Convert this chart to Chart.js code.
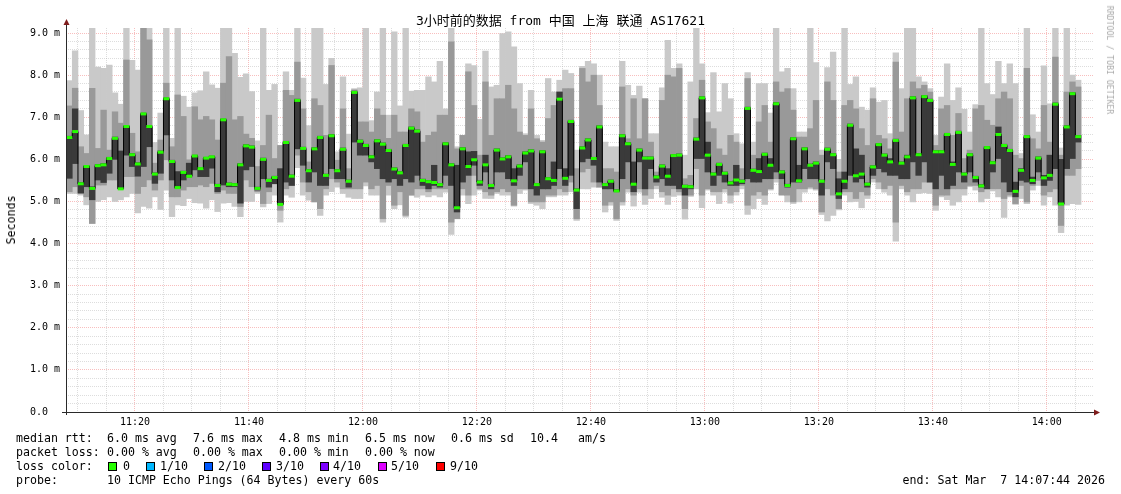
<!DOCTYPE html>
<html>
<head>
<meta charset="utf-8">
<script src="https://cdn.jsdelivr.net/npm/chart.js@4/dist/chart.umd.min.js"></script>
<style>
  body { margin: 0; background: #fff; }
  #wrap { position: relative; width: 1121px; height: 494px; font-family: "DejaVu Sans Mono", "Noto Sans CJK SC", monospace; color: #000; }
  canvas { position: absolute; left: 0; top: 0; }
  .t { position: absolute; white-space: pre; font-size: 11.6px; line-height: 14px; }
  .sq { position: absolute; top: 462px; width: 7px; height: 7px; border: 1px solid #000; }
  #title { position: absolute; left: 0; top: 13px; width: 1121px; text-align: center; font-size: 13px; line-height: 16px; white-space: pre; }
  #ylab { position: absolute; left: 11px; top: 220px; font-size: 11.6px; transform: translate(-50%, -50%) rotate(-90deg); }
  #credit { position: absolute; left: 1110px; top: 60px; font-size: 8.2px; color: #aaa; white-space: pre; transform: translate(-50%, -50%) rotate(90deg); }
</style>
</head>
<body>
<div id="wrap">
  <canvas id="smoke" width="1121" height="494"></canvas>
  <div id="title">3小时前的数据 from 中国 上海 联通 AS17621</div>
  <div id="ylab">Seconds</div>
  <div id="credit">RRDTOOL / TOBI OETIKER</div>

  <div class="t" style="left:16px;top:431px">median rtt:</div>
  <div class="t" style="left:107px;top:431px">6.0 ms avg</div>
  <div class="t" style="left:193px;top:431px">7.6 ms max</div>
  <div class="t" style="left:279px;top:431px">4.8 ms min</div>
  <div class="t" style="left:365px;top:431px">6.5 ms now</div>
  <div class="t" style="left:451px;top:431px">0.6 ms sd</div>
  <div class="t" style="left:530px;top:431px">10.4</div>
  <div class="t" style="left:578px;top:431px">am/s</div>

  <div class="t" style="left:16px;top:445px">packet loss:</div>
  <div class="t" style="left:107px;top:445px">0.00 % avg</div>
  <div class="t" style="left:193px;top:445px">0.00 % max</div>
  <div class="t" style="left:279px;top:445px">0.00 % min</div>
  <div class="t" style="left:365px;top:445px">0.00 % now</div>

  <div class="t" style="left:16px;top:459px">loss color:</div>
  <div class="sq" style="left:108px;background:#26ff00"></div><div class="t" style="left:123px;top:459px">0</div>
  <div class="sq" style="left:146px;background:#00b8ff"></div><div class="t" style="left:160px;top:459px">1/10</div>
  <div class="sq" style="left:204px;background:#0059ff"></div><div class="t" style="left:218px;top:459px">2/10</div>
  <div class="sq" style="left:262px;background:#5e00ff"></div><div class="t" style="left:276px;top:459px">3/10</div>
  <div class="sq" style="left:320px;background:#7e00ff"></div><div class="t" style="left:333px;top:459px">4/10</div>
  <div class="sq" style="left:378px;background:#dd00ff"></div><div class="t" style="left:391px;top:459px">5/10</div>
  <div class="sq" style="left:436px;background:#ff0000"></div><div class="t" style="left:450px;top:459px">9/10</div>

  <div class="t" style="left:16px;top:473px">probe:</div>
  <div class="t" style="left:107px;top:473px">10 ICMP Echo Pings (64 Bytes) every 60s</div>
  <div class="t" style="right:16px;top:473px">end: Sat Mar  7 14:07:44 2026</div>
</div>

<script>
// one sample per minute, first one at 11:08
const startMinute = 8;

// median rtt (ms)
const median = [
  6.52, 6.66, 5.42, 5.83, 5.31, 5.85, 5.87, 6.02, 6.50, 5.30,
  6.78, 6.11, 5.89, 7.08, 6.78, 5.65, 6.17, 7.44, 5.95, 5.33,
  5.69, 5.60, 6.08, 5.78, 6.03, 6.06, 5.38, 6.94, 5.41, 5.40,
  5.87, 6.32, 6.29, 5.31, 6.00, 5.50, 5.57, 4.93, 6.40, 5.60,
  7.40, 6.26, 5.73, 6.25, 6.52, 5.62, 6.56, 5.73, 6.24, 5.48,
  7.59, 6.43, 6.33, 6.06, 6.44, 6.36, 6.21, 5.77, 5.68, 6.33,
  6.74, 6.67, 5.50, 5.47, 5.45, 5.40, 6.37, 5.87, 4.85, 6.25,
  5.83, 5.99, 5.46, 5.87, 5.38, 6.22, 6.01, 6.06, 5.49, 5.84,
  6.15, 6.20, 5.40, 6.18, 5.54, 5.50, 7.43, 5.55, 6.90, 5.27,
  6.27, 6.46, 6.02, 6.77, 5.40, 5.48, 5.25, 6.56, 6.37, 5.41,
  6.22, 6.03, 6.03, 5.58, 5.84, 5.60, 6.09, 6.10, 5.36, 5.35,
  6.48, 7.46, 6.10, 5.65, 5.88, 5.67, 5.44, 5.51, 5.48, 7.21,
  5.74, 5.71, 6.12, 5.86, 7.32, 5.70, 5.38, 6.49, 5.49, 6.25,
  5.86, 5.91, 5.48, 6.24, 6.11, 5.18, 5.48, 6.81, 5.61, 5.65,
  5.41, 5.82, 6.35, 6.10, 5.94, 6.45, 5.91, 6.06, 7.46, 6.11,
  7.49, 7.40, 6.18, 6.18, 6.59, 5.88, 6.64, 5.65, 6.11, 5.57,
  5.37, 6.28, 5.92, 6.59, 6.33, 6.21, 5.24, 5.74, 6.54, 5.50,
  6.03, 5.56, 5.62, 7.31, 4.94, 6.77, 7.56, 6.54
];

// outer smoke: slowest / fastest ping
const smokeHi = [
  7.87, 8.58, 7.16, 6.58, 9.20, 8.19, 8.16, 8.24, 7.58, 7.31,
  9.20, 8.35, 8.12, 9.20, 9.20, 6.40, 7.10, 9.20, 6.50, 9.20,
  7.50, 7.24, 7.58, 7.63, 8.08, 7.77, 7.69, 9.20, 9.20, 8.52,
  7.95, 8.03, 7.61, 6.44, 9.20, 7.64, 7.78, 6.33, 8.08, 7.64,
  9.20, 7.93, 6.80, 9.20, 9.20, 7.78, 8.40, 6.18, 7.96, 6.60,
  7.68, 7.70, 9.20, 6.92, 7.60, 9.20, 7.05, 9.03, 7.27, 9.20,
  7.62, 7.64, 7.64, 7.96, 7.84, 8.33, 7.20, 9.20, 6.30, 6.57,
  8.27, 8.23, 6.95, 8.57, 7.72, 7.76, 8.99, 9.03, 8.67, 7.80,
  6.61, 7.64, 6.57, 6.45, 7.92, 7.60, 7.88, 8.12, 8.04, 6.22,
  8.21, 8.33, 8.27, 8.00, 6.41, 6.30, 6.30, 8.33, 7.76, 7.52,
  7.74, 7.44, 6.61, 6.61, 7.70, 8.83, 8.16, 8.27, 6.10, 7.84,
  9.20, 8.27, 7.11, 8.06, 7.13, 7.80, 7.44, 6.61, 6.37, 8.06,
  6.41, 7.80, 7.80, 7.10, 9.20, 8.08, 8.16, 7.68, 6.65, 6.65,
  9.20, 8.30, 6.22, 8.18, 8.55, 6.00, 9.20, 7.78, 7.96, 7.24,
  7.17, 7.70, 7.36, 7.40, 6.61, 8.53, 7.68, 9.20, 9.20, 7.96,
  7.84, 7.68, 6.57, 7.48, 8.27, 7.40, 7.70, 7.19, 6.65, 7.30,
  9.20, 7.80, 7.54, 8.33, 7.80, 8.27, 7.80, 6.14, 9.20, 7.06,
  6.65, 8.22, 7.32, 9.20, 6.27, 9.20, 8.00, 7.88
];
const smokeLo = [
  5.19, 5.19, 5.15, 4.92, 4.47, 5.00, 5.04, 5.11, 5.00, 5.04,
  5.11, 5.19, 4.73, 4.88, 4.84, 5.11, 4.81, 5.27, 4.64, 4.92,
  4.90, 5.07, 4.97, 4.96, 4.84, 5.04, 4.76, 4.96, 4.97, 4.88,
  4.64, 5.00, 5.00, 5.19, 4.87, 4.95, 5.15, 4.51, 5.15, 5.10,
  5.80, 5.15, 5.03, 4.99, 4.67, 5.15, 5.23, 5.34, 5.19, 5.10,
  5.07, 5.07, 5.37, 5.15, 5.15, 4.51, 5.15, 4.83, 4.92, 4.63,
  5.15, 5.10, 5.15, 5.11, 5.15, 5.11, 5.22, 4.22, 4.59, 5.15,
  4.95, 5.15, 5.27, 5.07, 5.07, 5.19, 5.15, 5.15, 4.89, 5.19,
  5.27, 4.95, 4.91, 4.83, 5.11, 5.11, 5.15, 5.15, 5.23, 4.55,
  5.30, 5.30, 5.34, 5.34, 4.75, 4.91, 4.55, 4.91, 5.22, 4.89,
  5.22, 4.93, 5.07, 5.30, 5.10, 4.93, 5.12, 5.15, 4.58, 5.12,
  5.30, 4.85, 5.27, 5.15, 4.95, 5.22, 4.96, 5.15, 5.30, 4.69,
  4.83, 5.07, 4.93, 5.27, 5.46, 5.16, 4.99, 4.95, 4.99, 5.22,
  5.30, 5.27, 4.69, 4.54, 4.67, 4.80, 5.15, 4.99, 5.00, 4.85,
  5.07, 5.46, 5.30, 5.22, 5.15, 4.06, 5.30, 5.15, 4.99, 5.19,
  5.21, 5.19, 4.79, 5.11, 5.04, 4.91, 4.99, 5.15, 5.35, 5.27,
  4.99, 5.07, 5.25, 5.11, 4.62, 5.11, 4.93, 5.07, 4.95, 5.27,
  5.38, 4.91, 5.11, 4.91, 4.26, 4.91, 4.95, 4.93
];

// middle smoke band
const midHi = [
  7.27, 7.69, 6.30, 6.14, 7.69, 6.26, 7.17, 6.22, 7.13, 6.86,
  8.36, 6.62, 6.18, 9.20, 8.84, 5.91, 6.46, 7.81, 6.30, 7.53,
  7.02, 5.99, 7.25, 6.94, 7.02, 6.94, 6.46, 7.81, 8.44, 6.94,
  7.02, 6.60, 6.50, 5.83, 6.33, 7.05, 6.02, 6.33, 7.64, 7.52,
  8.31, 7.20, 5.94, 7.44, 7.28, 6.57, 8.23, 5.98, 7.20, 5.78,
  7.65, 6.89, 6.89, 6.65, 7.20, 7.05, 6.50, 7.05, 6.65, 6.65,
  7.20, 7.13, 6.41, 6.57, 6.65, 7.05, 7.05, 8.79, 6.25, 6.57,
  8.08, 7.28, 6.10, 7.84, 6.57, 7.44, 7.44, 7.76, 7.20, 6.65,
  6.57, 7.20, 6.49, 6.41, 6.97, 7.28, 7.60, 7.68, 7.68, 5.78,
  8.16, 7.84, 8.00, 7.28, 5.78, 5.78, 5.70, 7.72, 6.49, 7.44,
  6.49, 7.44, 6.41, 5.70, 7.40, 8.00, 7.96, 8.16, 5.54, 5.62,
  6.97, 7.88, 6.89, 6.73, 6.25, 6.10, 6.57, 6.41, 5.78, 7.92,
  6.10, 6.89, 7.28, 6.41, 7.84, 7.60, 7.68, 7.17, 6.53, 6.53,
  6.73, 7.40, 6.10, 7.84, 7.40, 5.70, 7.28, 7.40, 7.20, 6.73,
  6.33, 7.44, 6.57, 6.49, 6.25, 8.31, 6.65, 7.44, 7.84, 7.68,
  7.76, 7.60, 6.33, 7.20, 7.28, 6.57, 7.09, 6.02, 6.22, 7.20,
  7.28, 6.93, 6.81, 7.44, 7.60, 7.44, 6.10, 6.02, 8.16, 6.49,
  6.25, 7.28, 6.41, 8.43, 6.10, 7.60, 7.84, 7.72
];
const midLo = [
  5.23, 5.35, 5.19, 5.11, 4.48, 5.39, 5.39, 5.51, 5.51, 5.35,
  5.59, 5.59, 5.19, 5.35, 5.51, 5.27, 5.51, 5.99, 5.11, 5.11,
  5.27, 5.35, 5.35, 5.39, 5.35, 5.43, 5.19, 5.27, 5.19, 5.19,
  4.88, 5.51, 5.35, 5.23, 4.95, 5.23, 5.46, 4.79, 5.30, 5.38,
  6.10, 5.46, 5.23, 4.99, 4.83, 5.30, 5.54, 5.46, 5.30, 5.30,
  5.30, 5.30, 5.46, 5.30, 5.38, 4.59, 5.38, 4.91, 5.23, 4.67,
  5.15, 5.30, 5.30, 5.23, 5.30, 5.30, 5.30, 4.51, 4.59, 5.30,
  5.15, 5.62, 5.30, 5.23, 5.15, 5.23, 5.30, 5.23, 4.91, 5.30,
  5.30, 4.99, 4.99, 4.99, 5.15, 5.15, 5.30, 5.23, 5.46, 4.59,
  5.70, 5.78, 5.46, 5.34, 4.91, 4.99, 4.59, 4.99, 5.30, 5.15,
  5.30, 5.15, 5.30, 5.38, 5.23, 5.15, 5.30, 5.23, 4.83, 5.15,
  5.78, 5.15, 5.30, 5.23, 5.23, 5.30, 5.15, 5.23, 5.38, 4.91,
  5.15, 5.23, 5.15, 5.30, 5.54, 5.15, 5.15, 4.99, 5.30, 5.30,
  5.34, 5.30, 4.75, 5.30, 5.15, 4.83, 5.23, 5.23, 5.07, 5.23,
  5.15, 5.54, 5.46, 5.30, 5.38, 4.51, 5.38, 5.23, 5.30, 5.30,
  5.46, 5.46, 4.91, 5.15, 5.15, 5.30, 5.30, 5.30, 5.38, 5.38,
  5.23, 5.30, 5.30, 5.30, 5.07, 5.15, 4.95, 5.38, 4.99, 5.38,
  5.50, 5.15, 5.23, 5.30, 4.43, 5.62, 5.62, 5.78
];

// dark core around the median
const coreHi = [
  6.55, 7.20, 5.45, 5.85, 5.35, 5.88, 5.90, 6.05, 6.53, 6.20,
  6.80, 6.14, 5.92, 7.10, 6.80, 5.68, 6.20, 7.46, 5.98, 5.71,
  5.72, 5.91, 6.10, 5.80, 6.05, 6.08, 5.41, 6.96, 5.44, 5.43,
  5.90, 6.35, 6.32, 5.34, 6.03, 5.53, 5.60, 5.78, 6.43, 5.63,
  7.43, 6.29, 5.76, 6.28, 6.55, 5.65, 6.59, 5.76, 6.27, 5.51,
  7.62, 6.46, 6.36, 6.09, 6.47, 6.39, 6.24, 5.80, 5.71, 6.36,
  6.77, 6.70, 5.53, 5.50, 5.86, 5.43, 6.40, 5.90, 5.86, 6.28,
  6.18, 6.19, 5.49, 6.10, 5.41, 6.25, 6.04, 6.09, 5.78, 5.87,
  6.18, 6.23, 5.43, 6.21, 5.57, 5.94, 7.60, 5.78, 6.93, 5.30,
  6.30, 6.49, 6.05, 6.80, 5.43, 5.51, 5.28, 6.59, 6.40, 5.94,
  6.25, 6.06, 6.06, 5.61, 5.87, 5.78, 6.12, 6.13, 5.39, 5.38,
  6.51, 7.49, 6.41, 5.68, 5.91, 5.70, 5.47, 5.86, 5.51, 7.24,
  5.77, 6.02, 6.15, 6.02, 7.35, 5.73, 5.41, 6.52, 5.86, 6.28,
  5.89, 5.94, 5.51, 6.27, 6.14, 5.54, 5.70, 6.84, 6.25, 6.10,
  5.44, 5.85, 6.38, 6.13, 6.02, 6.48, 5.94, 6.10, 7.49, 6.14,
  7.52, 7.43, 6.21, 6.21, 6.62, 5.94, 6.67, 5.68, 6.14, 5.60,
  5.40, 6.31, 5.95, 6.77, 6.36, 6.24, 5.46, 5.78, 6.57, 5.58,
  6.06, 5.62, 6.10, 7.34, 6.00, 6.80, 7.59, 6.57
];
const coreLo = [
  5.55, 5.90, 5.20, 5.35, 5.04, 5.51, 5.45, 5.67, 6.00, 5.30,
  6.10, 5.83, 5.60, 5.83, 6.30, 5.43, 5.67, 6.58, 5.51, 5.31,
  5.51, 5.58, 5.75, 5.59, 5.59, 5.79, 5.23, 5.39, 5.35, 5.35,
  4.96, 5.75, 5.83, 5.27, 5.54, 5.34, 5.42, 4.93, 5.46, 5.38,
  6.25, 5.86, 5.46, 5.70, 5.38, 5.38, 5.78, 5.54, 5.54, 5.34,
  6.41, 6.10, 6.10, 5.94, 5.78, 5.54, 5.46, 5.54, 5.38, 5.54,
  5.46, 5.62, 5.38, 5.30, 5.38, 5.34, 5.62, 5.38, 4.75, 5.46,
  5.62, 5.86, 5.38, 5.70, 5.30, 5.70, 5.70, 5.54, 5.38, 5.62,
  5.94, 5.30, 5.15, 5.30, 5.30, 5.38, 5.78, 5.38, 5.62, 4.83,
  5.94, 6.02, 5.86, 5.46, 5.30, 5.30, 5.23, 5.54, 5.94, 5.23,
  5.94, 5.30, 5.78, 5.46, 5.54, 5.38, 5.38, 5.30, 5.15, 5.30,
  6.02, 6.02, 5.70, 5.38, 5.62, 5.46, 5.38, 5.38, 5.42, 5.54,
  5.46, 5.46, 5.54, 5.54, 5.70, 5.54, 5.34, 5.46, 5.46, 5.78,
  5.54, 5.54, 5.15, 5.94, 5.78, 5.07, 5.30, 5.62, 5.46, 5.54,
  5.34, 5.62, 5.78, 5.70, 5.62, 5.62, 5.54, 5.54, 5.94, 5.62,
  5.94, 5.46, 5.30, 5.62, 5.30, 5.38, 5.70, 5.46, 5.70, 5.46,
  5.34, 5.30, 5.70, 6.02, 5.46, 5.23, 5.11, 5.50, 5.46, 5.42,
  5.70, 5.38, 5.50, 5.78, 4.92, 5.78, 6.02, 6.41
];

// axis range in minutes after 11:00, y in ms
const xMin = 7.9;
const xMax = 188.1;
const yMax = 9.12;

function minuteLabel(v) {
  const t = 11 * 60 + v;
  const h = Math.floor(t / 60);
  const m = t % 60;
  return h + ":" + String(m).padStart(2, "0");
}

const minutes = median.map((_, i) => startMinute + i + 0.5);
const band = (lo, hi) => minutes.map((x, i) => ({ x: x, y: [lo[i], hi[i]] }));
const line = (vals) => minutes.map((x, i) => ({ x: x, y: vals[i] }));

// axis lines with the little rrdtool arrow heads
const axisArrows = {
  id: "axisArrows",
  afterDraw(chart) {
    const { ctx, chartArea: a } = chart;
    const xl = Math.round(a.left) + 0.5;
    const yb = Math.round(a.bottom) + 0.5;
    ctx.save();
    ctx.strokeStyle = "#2a2a2a";
    ctx.lineWidth = 1;
    ctx.beginPath();
    ctx.moveTo(a.left - 4, yb);
    ctx.lineTo(a.right + 1, yb);
    ctx.moveTo(xl, a.bottom + 3);
    ctx.lineTo(xl, a.top - 5);
    ctx.stroke();
    ctx.fillStyle = "#7f1d1d";
    ctx.beginPath();
    ctx.moveTo(xl - 3, a.top - 3);
    ctx.lineTo(xl + 3, a.top - 3);
    ctx.lineTo(xl, a.top - 9);
    ctx.closePath();
    ctx.fill();
    ctx.beginPath();
    ctx.moveTo(a.right + 1, yb - 3);
    ctx.lineTo(a.right + 1, yb + 3);
    ctx.lineTo(a.right + 7, yb);
    ctx.closePath();
    ctx.fill();
    ctx.restore();
  },
};

const tickFont = { family: "DejaVu Sans Mono", size: 10 };
const majorGrid = "rgba(240, 110, 110, 0.45)";
const minorGrid = "rgba(170, 170, 170, 0.4)";

const barCommon = {
  type: "bar",
  grouped: false,
  barPercentage: 1,
  categoryPercentage: 1,
  borderWidth: 0,
};

new Chart(document.getElementById("smoke"), {
  type: "bar",
  data: {
    datasets: [
      { ...barCommon, label: "smoke", data: band(smokeLo, smokeHi), backgroundColor: "#c9c9c9", order: 6 },
      { ...barCommon, label: "mid", data: band(midLo, midHi), backgroundColor: "#999999", order: 5 },
      { ...barCommon, label: "core", data: band(coreLo, coreHi), backgroundColor: "#3a3a3a", order: 4 },
      {
        type: "line",
        label: "median step",
        data: line(median),
        stepped: "middle",
        borderColor: "#000",
        borderWidth: 1,
        pointRadius: 0,
        fill: false,
        order: 3,
      },
      {
        type: "line",
        label: "median",
        data: line(median),
        showLine: false,
        pointStyle: "line",
        pointRadius: 2.9,
        pointBorderWidth: 3,
        pointBorderColor: "#26ff00",
        pointBackgroundColor: "#26ff00",
        order: 1,
      },
    ],
  },
  options: {
    responsive: false,
    animation: false,
    events: [],
    layout: { padding: { top: 28, right: 28, bottom: 62, left: 0 } },
    plugins: {
      legend: { display: false },
      tooltip: { enabled: false },
      title: { display: false },
    },
    scales: {
      x: {
        type: "linear",
        min: xMin,
        max: xMax,
        offset: false,
        z: 1,
        grid: {
          offset: false,
          drawTicks: false,
          lineWidth: 1,
          color: (c) => (c.tick && c.tick.value % 20 === 0 ? majorGrid : minorGrid),
        },
        border: { display: false, dash: [1, 1] },
        ticks: {
          stepSize: 5,
          autoSkip: false,
          includeBounds: false,
          maxRotation: 0,
          padding: 4,
          font: tickFont,
          color: "#000",
          callback: (v) => (v % 20 === 0 ? minuteLabel(v) : ""),
        },
        afterFit: (s) => { s.height = 20; },
      },
      y: {
        type: "linear",
        min: 0,
        max: yMax,
        z: 1,
        grid: {
          drawTicks: false,
          lineWidth: 1,
          color: (c) => (c.tick && Number.isInteger(c.tick.value) ? majorGrid : minorGrid),
        },
        border: { display: false, dash: [1, 1] },
        ticks: {
          stepSize: 0.2,
          autoSkip: false,
          includeBounds: false,
          padding: 6,
          font: tickFont,
          color: "#000",
          callback: (v) => {
            if (!Number.isInteger(v)) return "";
            return v === 0 ? "0.0  " : v.toFixed(1) + " m";
          },
        },
        afterFit: (s) => { s.width = 66; },
      },
    },
  },
  plugins: [axisArrows],
});
</script>
</body>
</html>
